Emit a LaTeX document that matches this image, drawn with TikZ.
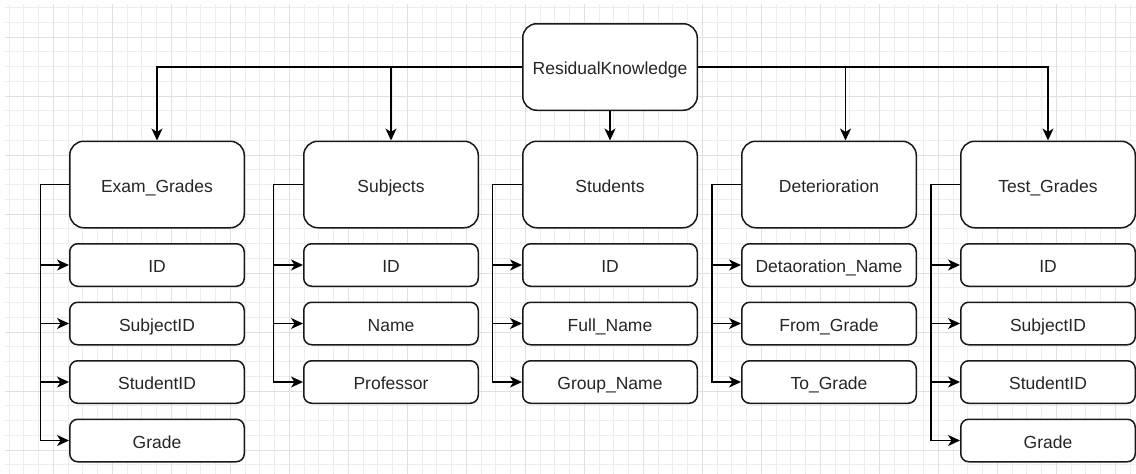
\documentclass[tikz,border=0pt]{standalone}
\usepackage{fontspec}
\setmainfont{Liberation Sans}
\usetikzlibrary{arrows.meta,positioning}

\begin{document}
\begin{tikzpicture}[x=1pt,y=-1pt,node distance=14.5pt,
    >={Stealth[length=12pt,width=11pt,inset=3.5pt]},
    line width=1.5pt,
    box/.style={draw=black!90,fill=white,font=\fontsize{17.5}{20}\selectfont,
      text=black!85,minimum width=174.5pt,inner sep=0pt,
      text height=16.5pt,text depth=1.2pt},
    table/.style={box,rounded corners=14pt,minimum height=86.5pt},
    attr/.style={box,rounded corners=8pt,minimum height=42.5pt}]
  \useasboundingbox (0,0) rectangle (1136,474);
  \begin{scope}[shift={(9.05pt,-7.5pt)}]
    \draw[black!7,line width=0.8pt,step=14.75pt] (-4.05,466.5) grid (1126.95,-3.5);
  \end{scope}
  \begin{scope}[shift={(53.3pt,-37pt)}]
    \draw[black!12,line width=0.8pt,step=59pt] (-48.3,437) grid (1082.7,-33);
  \end{scope}

  \node[table] (RK) at (610,67) {ResidualKnowledge};

  \node[table] (Exam) at (157,184.5) {Exam\_Grades};
  \node[table,right=58pt of Exam] (Subj) {Subjects};
  \node[table,right=43pt of Subj]  (Stud) {Students};
  \node[table,right=43pt of Stud]  (Det)  {Deterioration};
  \node[table,right=43pt of Det]   (Test) {Test\_Grades};

  \node[attr,below=of Exam]  (ExamA) {ID};
  \node[attr,below=of ExamA] (ExamB) {SubjectID};
  \node[attr,below=of ExamB] (ExamC) {StudentID};
  \node[attr,below=of ExamC] (ExamD) {Grade};

  \node[attr,below=of Subj]  (SubjA) {ID};
  \node[attr,below=of SubjA] (SubjB) {Name};
  \node[attr,below=of SubjB] (SubjC) {Professor};

  \node[attr,below=of Stud]  (StudA) {ID};
  \node[attr,below=of StudA] (StudB) {Full\_Name};
  \node[attr,below=of StudB] (StudC) {Group\_Name};

  \node[attr,below=of Det]  (DetA) {Detaoration\_Name};
  \node[attr,below=of DetA] (DetB) {From\_Grade};
  \node[attr,below=of DetB] (DetC) {To\_Grade};

  \node[attr,below=of Test]  (TestA) {ID};
  \node[attr,below=of TestA] (TestB) {SubjectID};
  \node[attr,below=of TestB] (TestC) {StudentID};
  \node[attr,below=of TestC] (TestD) {Grade};

  \draw[->] (RK.west) -| (Exam.north);
  \draw[->] (RK.west) -| (Subj.north);
  \draw[->] (RK.south) -- (RK.south |- Stud.north);
  \draw[->] (RK.east) -| ([xshift=16.5pt]Det.north);
  \draw[->] (RK.east) -| (Test.north);

  \coordinate (ExamS) at ([xshift=-28.5pt]Exam.west);
  \coordinate (SubjS) at ([xshift=-29.5pt]Subj.west);
  \coordinate (StudS) at ([xshift=-29.5pt]Stud.west);
  \coordinate (DetS)  at ([xshift=-29pt]Det.west);
  \coordinate (TestS) at ([xshift=-29pt]Test.west);

  \foreach \f in {ExamA,ExamB,ExamC,ExamD}
    \draw[->] (Exam.west) -- (ExamS) |- (\f.west);
  \foreach \f in {SubjA,SubjB,SubjC}
    \draw[->] (Subj.west) -- (SubjS) |- (\f.west);
  \foreach \f in {StudA,StudB,StudC}
    \draw[->] (Stud.west) -- (StudS) |- (\f.west);
  \foreach \f in {DetA,DetB,DetC}
    \draw[->] (Det.west) -- (DetS) |- (\f.west);
  \foreach \f in {TestA,TestB,TestC,TestD}
    \draw[->] (Test.west) -- (TestS) |- (\f.west);
\end{tikzpicture}
\end{document}
